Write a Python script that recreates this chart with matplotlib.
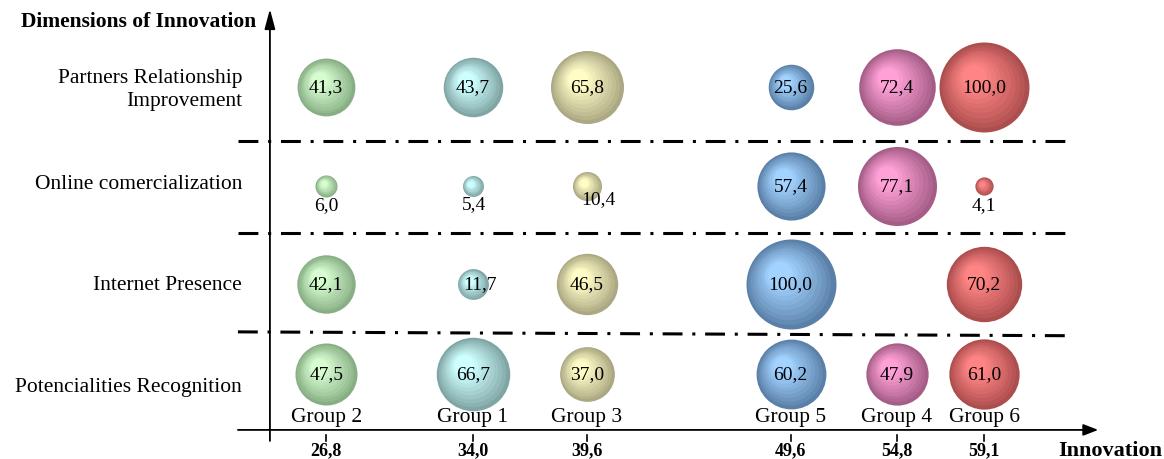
import matplotlib
matplotlib.use("Agg")
import matplotlib.pyplot as plt
import matplotlib.transforms as mtransforms
import numpy as np

plt.rcParams["font.family"] = ["Liberation Serif", "DejaVu Serif"]

# innovation score of each group (x position)
GROUPS = ["Group 2", "Group 1", "Group 3", "Group 5", "Group 4", "Group 6"]
INNOVATION = [26.8, 34.0, 39.6, 49.6, 54.8, 59.1]

# dimensions, bottom to top
DIMENSIONS = ["Potencialities Recognition", "Internet Presence",
              "Online comercialization", "Partners Relationship\nImprovement"]

# values per dimension, in GROUPS order (None = no bubble)
POTENCIALITIES = [47.5, 66.7, 37.0, 60.2, 47.9, 61.0]
INTERNET = [42.1, 11.7, 46.5, 100.0, None, 70.2]
ONLINE = [6.0, 5.4, 10.4, 57.4, 77.1, 4.1]
PARTNERS = [41.3, 43.7, 65.8, 25.6, 72.4, 100.0]
VALUES = [POTENCIALITIES, INTERNET, ONLINE, PARTNERS]

# row centres on the y scale (bottom to top) and where their names sit
ROW_Y = [0.0, 0.94, 1.965, 3.0]
NAME_Y = [-0.136, 0.94, 1.995, 2.975]
# separator heights (left end, right end)
SEPARATORS = [(0.44, 0.40), (1.474, 1.474), (2.435, 2.435)]

# (edge, highlight) colours per group
COLORS = [
    ("#88ae85", "#d6fcd0"),   # Group 2 green
    ("#80a5a5", "#ceffff"),   # Group 1 teal
    ("#aba883", "#fffcc6"),   # Group 3 olive
    ("#5a80a8", "#a2d2ff"),   # Group 5 blue
    ("#a55d87", "#ffa0d6"),   # Group 4 pink
    ("#ad4e4e", "#ff8585"),   # Group 6 red
]

# label offsets (pixels) for the small bubbles whose text sits outside
LABEL_OFFSET = {(2, 0): (0, -19), (2, 1): (1, -18), (2, 2): (11, -13),
                (2, 5): (0, -19), (1, 1): (7, 0)}

PX_PER_UNIT = 4.5   # bubble radius in px per sqrt(value)
DPI = 100


def mix(c1, c2, t):
    a = np.array(matplotlib.colors.to_rgb(c1))
    b = np.array(matplotlib.colors.to_rgb(c2))
    return tuple(a + (b - a) * t)


def draw_bubble(ax, fig, x, y, value, edge, light, n=10):
    r_px = PX_PER_UNIT * np.sqrt(value)
    for k in range(n):
        t = k / (n - 1)
        f = 1.0 - 0.72 * t
        shift = (1.0 - f) * r_px * 0.32 / DPI
        trans = ax.transData + mtransforms.ScaledTranslation(
            -shift, shift, fig.dpi_scale_trans)
        d_pt = 2 * r_px * f * 72.0 / DPI
        ax.scatter([x], [y], s=d_pt ** 2, color=mix(edge, light, t ** 0.9),
                   linewidths=0, transform=trans, zorder=3 + k * 0.01)
    return r_px


fig = plt.figure(figsize=(11.64, 4.6), dpi=DPI)
ax = fig.add_axes([0, 0, 1, 1])
ax.set_xlim(10.79, 67.93)
ax.set_ylim(-0.889, 3.92)
ax.axis("off")

# dash-dot separators between dimensions
for y_left, y_right in SEPARATORS:
    ax.plot([22.47, 63.07], [y_left, y_right], color="k", lw=2.2,
            linestyle=(0, (6.5, 3.2, 1.0, 3.2)), solid_capstyle="butt",
            dash_capstyle="butt", zorder=2)

# axes with arrow heads
x_axis_y = -0.585
y_axis_x = 24.04
ax.annotate("", xy=(64.7, x_axis_y), xytext=(22.47, x_axis_y),
            arrowprops=dict(arrowstyle="-|>,head_length=0.9,head_width=0.35",
                            lw=1.3, color="k", shrinkA=0, shrinkB=0))
ax.annotate("", xy=(y_axis_x, 3.815), xytext=(y_axis_x, -0.70),
            arrowprops=dict(arrowstyle="-|>,head_length=1.2,head_width=0.32",
                            lw=1.3, color="k", shrinkA=0, shrinkB=0))

# x ticks and bold tick labels
for xv in INNOVATION:
    ax.plot([xv, xv], [-0.64, -0.70], color="k", lw=1.2)
    ax.text(xv, -0.795, f"{xv:.1f}".replace(".", ","), ha="center",
            va="center", fontsize=13, fontweight="bold")

ax.text(67.85, -0.795, "Innovation", ha="right", va="center",
        fontsize=16, fontweight="bold")
ax.text(23.35, 3.69, "Dimensions of Innovation", ha="right", va="center",
        fontsize=15.5, fontweight="bold")

# dimension names
for yv, name in zip(NAME_Y, DIMENSIONS):
    ax.text(22.67, yv, name, ha="right", va="center", fontsize=15.5,
            multialignment="right", linespacing=1.3)

# bubbles
for ri, (yv, row) in enumerate(zip(ROW_Y, VALUES)):
    for gi, (xv, val) in enumerate(zip(INNOVATION, row)):
        if val is None:
            continue
        edge, light = COLORS[gi]
        draw_bubble(ax, fig, xv, yv, val, edge, light)
        dx, dy = LABEL_OFFSET.get((ri, gi), (0, 0))
        ax.annotate(f"{val:.1f}".replace(".", ","), xy=(xv, yv),
                    xytext=(dx * 0.72, dy * 0.72), textcoords="offset points",
                    ha="center", va="center", fontsize=14, zorder=10)

# group names under the bottom row
for xv, g in zip(INNOVATION, GROUPS):
    ax.text(xv, -0.44, g, ha="center", va="center", fontsize=15.5)

fig.savefig("out.png", dpi=DPI)
